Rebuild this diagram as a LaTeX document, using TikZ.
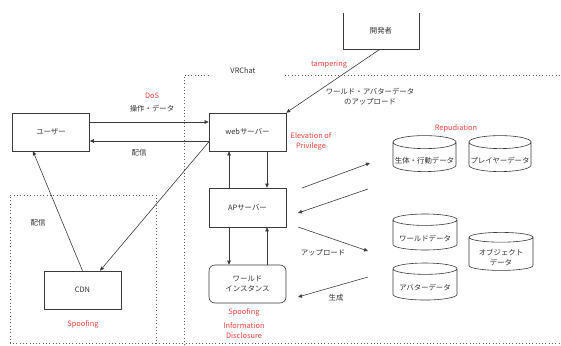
\documentclass[tikz,border=0pt]{standalone}
\usepackage{fontspec}
\setmainfont{Noto Sans CJK JP}
\usetikzlibrary{arrows.meta,shapes.geometric,calc}
\definecolor{ln}{HTML}{3A3A3A}
\definecolor{rd}{HTML}{E8403A}
\newcommand{\dbtext}[1]{\raisebox{-6pt}[0pt][0pt]{\begin{tabular}{@{}c@{}}#1\end{tabular}}}
\begin{document}
\begin{tikzpicture}[x=1pt,y=-1pt,
  every node/.style={font=\fontsize{7.4}{10}\selectfont, inner sep=0pt, align=center, text=black!80},
  box/.style={draw=ln, line width=0.6pt, minimum width=77pt, minimum height=38pt},
  db/.style={cylinder, shape border rotate=90, aspect=0.22, draw=ln, line width=0.6pt, minimum width=63pt, minimum height=36pt},
  arr/.style={draw=ln, line width=0.6pt, -{Triangle[length=4pt,width=3.5pt]}},
  region/.style={draw=ln!80, line width=1pt, dash pattern=on 0.9pt off 2.4pt},
  redlbl/.style={text=rd}
]
\useasboundingbox (0,0) rectangle (561,345);
% regions
\draw[region] (10,343) -- (10,195) -- (156,195) -- (156,343) -- cycle;
\draw[region] (184,345) -- (184,75) -- (209,75);
\draw[region] (285,75) -- (561,75);
\draw[region] (156,343) -- (561,343);
\node (vrchat) at (243,71) {VRChat};
% boxes
\node[box] (user) at (51,132) {ユーザー};
\node[box] (web) at (247.5,132) {webサーバー};
\node[minimum width=76pt, minimum height=36pt] (dev) at (381,31) {開発者};
\draw[ln, line width=0.6pt] (dev.north west) -- (dev.south west) -- (dev.south east) -- (dev.north east);
\node[box, minimum height=39pt] (ap) at (247.5,207.5) {APサーバー};
\node[box, rounded corners=6pt] (world) at (247.5,284) {ワールド\\インスタンス};
\node[box] (cdn) at (82.5,290) {CDN};
% databases
\node[db] (bio) at (424.5,157) {\dbtext{生体・行動データ}};
\node[db, minimum width=62pt] (player) at (500,157) {\dbtext{プレイヤーデータ}};
\node[db, minimum width=64pt] (wdata) at (425,235) {\dbtext{ワールドデータ}};
\node[db, minimum width=64pt, minimum height=38pt] (obj) at (501,254) {\dbtext{オブジェクト\\データ}};
\node[db, minimum width=64pt, minimum height=37pt] (avatar) at (425,284.5) {\dbtext{アバターデータ}};
% connectors
\draw[arr] ([yshift=10pt]user.east) -- ([yshift=10pt]web.west);
\draw[arr] ([yshift=-9pt]web.west) -- ([yshift=-9pt]user.east);
\draw[arr] (cdn.north) -- ([xshift=-18pt]user.south);
\draw[arr] ([yshift=-10pt]web.west) -- ([xshift=17.5pt]cdn.north);
\draw[arr] ([xshift=-1pt]dev.south) -- (web.north east);
\draw[arr] ([xshift=19.5pt]web.south) -- ([xshift=19.5pt]ap.north);
\draw[arr] ([xshift=-18.5pt]ap.north) -- ([xshift=-18.5pt]web.south);
\draw[arr] ([xshift=-18.5pt]ap.south) -- ([xshift=-18.5pt]world.north);
\draw[arr] ([xshift=19.5pt]world.north) -- ([xshift=19.5pt]ap.south);
% free arrows
\coordinate (a1s) at (302,188); \coordinate (a1e) at (370,163);
\coordinate (a2s) at (368,189); \coordinate (a2e) at (298,213);
\coordinate (a3s) at (298,227); \coordinate (a3e) at (368,251);
\coordinate (a4s) at (368,277); \coordinate (a4e) at (298,297);
\draw[arr] (a1s) -- (a1e);
\draw[arr] (a2s) -- (a2e);
\draw[arr] (a3s) -- (a3e);
\draw[arr] (a4s) -- (a4e);
% labels
\node[redlbl] (dos) at (152,96) {DoS};
\node (op) at (152,109) {操作・データ};
\node (hs1) at (139,153) {配信};
\node[redlbl] (tamp) at (329,65) {tampering};
\node (upl) at (370,96.5) {ワールド・アバターデータ\\のアップロード};
\node[redlbl] (eop) at (311,141) {Elevation of\\Privilege};
\node[redlbl] (rep) at (456,128) {Repudiation};
\node (hs2) at (38,223) {配信};
\node[redlbl] (sp1) at (83,324) {Spoofing};
\node[redlbl] (sp2) at (244,312) {Spoofing};
\node[redlbl] (info) at (244,331) {Information\\Disclosure};
\node (upl2) at (323,253) {アップロード};
\node (gen) at (336,298) {生成};
\end{tikzpicture}
\end{document}
